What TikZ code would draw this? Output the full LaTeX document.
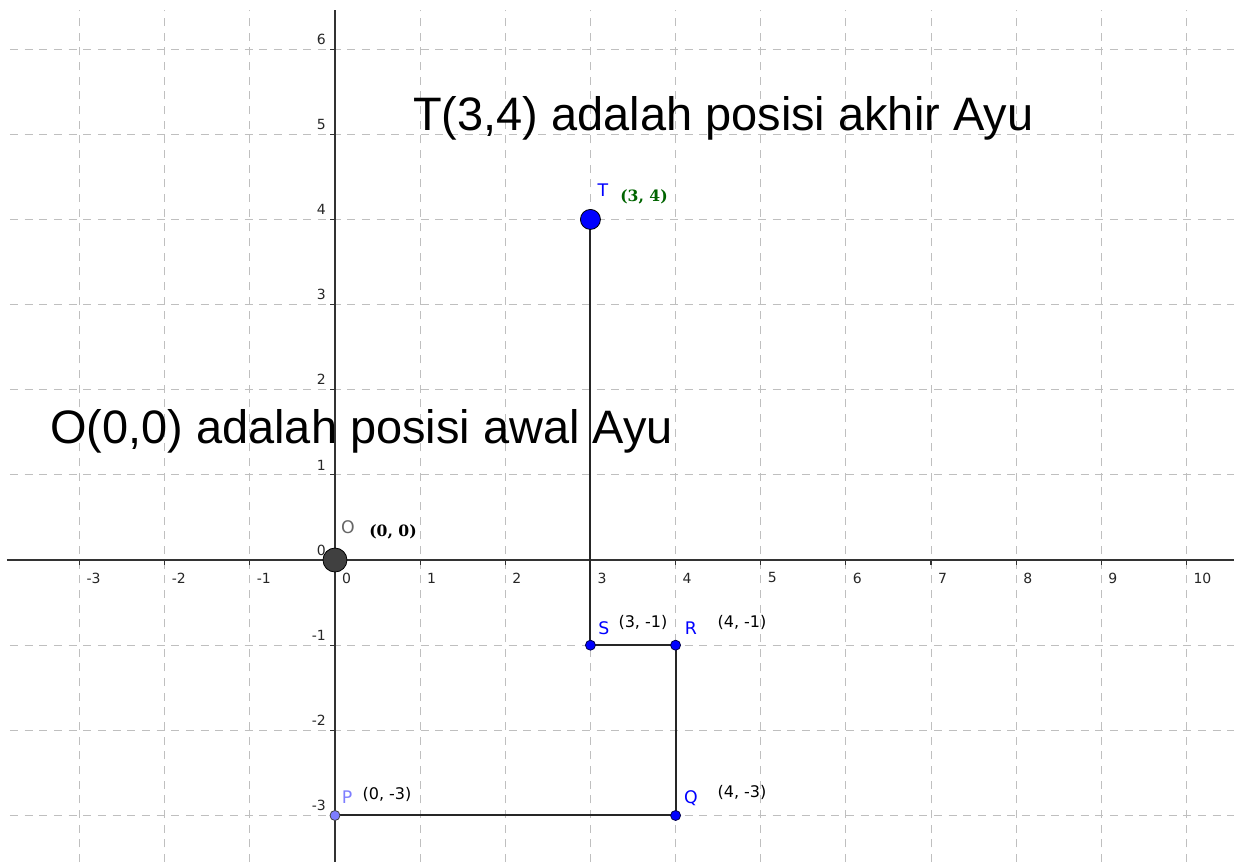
\documentclass[tikz,border=0pt]{standalone}
\usepackage{fontspec}
\setmainfont{Liberation Sans}
\newfontfamily\labfont{DejaVu Sans}
\newfontfamily\serfont{DejaVu Serif}
\definecolor{ptblue}{RGB}{0,0,255}
\definecolor{ltblue}{RGB}{125,125,255}
\definecolor{dkgreen}{RGB}{0,100,0}
\definecolor{ogray}{RGB}{64,64,64}
\begin{document}
\begin{tikzpicture}[x=63.8625pt,y=63.8625pt,
  gridline/.style={draw=black!25, line width=0.75pt, dash pattern=on 6pt off 5pt},
  axisline/.style={draw=black!80, line width=1.1pt},
  tickmark/.style={draw=black!80, line width=0.9pt},
  seg/.style={draw=black!85, line width=1.5pt},
  xticklab/.style={font=\labfont\fontsize{10.5}{12}\selectfont, anchor=west, inner sep=0pt, text=black!85},
  yticklab/.style={font=\labfont\fontsize{10.5}{12}\selectfont, anchor=east, inner sep=0pt, text=black!85},
  bigtext/.style={font=\fontsize{35.2}{40}\selectfont, anchor=base west, inner sep=0pt},
  ptname/.style={font=\labfont\fontsize{13}{15}\selectfont, inner sep=0pt, text=ptblue},
  ptcoord/.style={font=\labfont\fontsize{12}{14}\selectfont, inner sep=0pt, text=black},
  boldcoord/.style={font=\serfont\bfseries\fontsize{11.7}{14}\selectfont, inner sep=0pt},
  bigpt/.style={circle, inner sep=0pt, draw=black, line width=0.6pt},
  smallpt/.style={circle, inner sep=0pt, minimum size=7.5pt, draw=black!70!blue, line width=0.6pt, fill=ptblue}
]
\useasboundingbox (-3.934,-3.547) rectangle (10.558,6.577);
% grid
\foreach \x in {-3,...,10} \draw[gridline] (\x,-3.547) -- (\x,6.459);
\foreach \y in {-3,...,6} \draw[gridline] (-3.817,\y) -- (10.558,\y);
% axes
\draw[axisline] (-3.852,0) -- (10.558,0);
\draw[axisline] (0,6.459) -- (0,-3.547);
\foreach \x in {-3,-2,-1,1,2,3,4,5,6,7,8,9,10} \draw[tickmark] (\x,0) -- (\x,-0.06);
\foreach \y in {-3,-2,-1,1,2,3,4,5,6} \draw[tickmark] (0,\y) -- (-0.06,\y);
\foreach \x in {-3,-2,-1,0,1,2,3,4,5,6,7,8,9,10} \node[xticklab] at (\x+0.08,-0.21) {\x};
\foreach \y in {-3,-2,-1,0,1,2,3,4,5,6} \node[yticklab] at (-0.105,\y+0.117) {\y};
% big texts
\node[bigtext] (tT) at (0.916,5.05) {T(3,4) adalah posisi akhir Ayu};
\node[bigtext] (tO) at (-3.347,1.374) {O(0,0) adalah posisi awal Ayu};
% path
\coordinate (cT) at (3,4);
\coordinate (cS) at (3,-1);
\coordinate (cR) at (4,-1);
\coordinate (cQ) at (4,-3);
\coordinate (cP) at (0,-3);
\draw[seg] (cT) -- (cS) -- (cR) -- (cQ) -- (cP);
% points
\node[bigpt, minimum size=18pt, fill=ogray] (O) at (0,0) {};
\node[bigpt, minimum size=15pt, fill=ptblue] (T) at (cT) {};
\node[smallpt] (S) at (cS) {};
\node[smallpt] (R) at (cR) {};
\node[smallpt] (Q) at (cQ) {};
\node[smallpt, fill=ltblue, draw=black!75] (P) at (cP) {};
% labels
\node[ptname, text=black!60] (lO) at (0.153,0.388) {O};
\node[boldcoord] (cOl) at (0.681,0.329) {(0, 0)};
\node[ptname] (lT) at (3.147,4.345) {T};
\node[boldcoord, text=dkgreen] (cTl) at (3.629,4.263) {(3, 4)};
\node[ptname] (lS) at (3.159,-0.799) {S};
\node[ptcoord] (cSl) at (3.617,-0.728) {(3, -1)};
\node[ptname] (lR) at (4.181,-0.799) {R};
\node[ptcoord] (cRl) at (4.780,-0.728) {(4, -1)};
\node[ptname, text=ltblue] (lP) at (0.141,-2.783) {P};
\node[ptcoord] (cPl) at (0.611,-2.748) {(0, -3)};
\node[ptname] (lQ) at (4.181,-2.795) {Q};
\node[ptcoord] (cQl) at (4.780,-2.725) {(4, -3)};
\end{tikzpicture}
\end{document}
